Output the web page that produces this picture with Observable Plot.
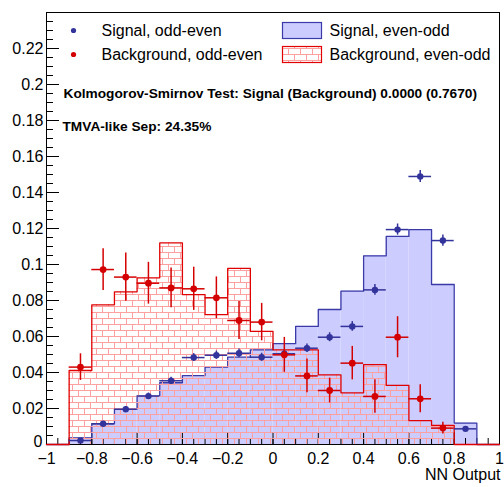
<!DOCTYPE html>
<html>
<head>
<meta charset="utf-8">
<script src="https://cdn.jsdelivr.net/npm/d3@7"></script>
<script src="https://cdn.jsdelivr.net/npm/@observablehq/plot@0.6"></script>
<style>
  html, body { margin: 0; padding: 0; background: #fff; }
  svg { display: block; }
</style>
</head>
<body>
<div id="chart"></div>
<script>
// ---- data ----
const binEdges = [-1, -0.9, -0.8, -0.7, -0.6, -0.5, -0.4, -0.3, -0.2, -0.1, 0, 0.1, 0.2, 0.3, 0.4, 0.5, 0.6, 0.7, 0.8, 0.9, 1];
// Signal, even-odd (histogram, 20 bins)
const sigEvenOdd = [0, 0.0037, 0.0115, 0.0196, 0.0269, 0.0343, 0.0383, 0.0430, 0.0485, 0.0526, 0.0560, 0.0656, 0.0750, 0.0852, 0.1048, 0.1156, 0.1194, 0.0889, 0.0119, 0];
// Background, even-odd (histogram, 20 bins)
const bkgEvenOdd = [0, 0.0411, 0.0776, 0.0848, 0.0926, 0.1120, 0.0833, 0.0722, 0.0978, 0.0628, 0.0526, 0.0526, 0.0387, 0.0287, 0.0444, 0.0328, 0.0133, 0.0106, 0, 0];
// Signal, odd-even (points)
const sigCenters = [-0.85, -0.75, -0.65, -0.55, -0.45, -0.35, -0.25, -0.15, -0.05, 0.05, 0.15, 0.25, 0.35, 0.45, 0.55, 0.65, 0.75, 0.85];
const sigOddEven = [0.0022, 0.0115, 0.0196, 0.0269, 0.0354, 0.0483, 0.0496, 0.0507, 0.0485, 0.0504, 0.0535, 0.0596, 0.0656, 0.0859, 0.1194, 0.1489, 0.1133, 0.0087];
const sigOddEvenErr = [0.0006, 0.0012, 0.0015, 0.0017, 0.0020, 0.0022, 0.0023, 0.0023, 0.0022, 0.0023, 0.0024, 0.0025, 0.0027, 0.0030, 0.0031, 0.0033, 0.0031, 0.0011];
// Background, odd-even (points)
const bkgCenters = [-0.85, -0.75, -0.65, -0.55, -0.45, -0.35, -0.25, -0.15, -0.05, 0.05, 0.15, 0.25, 0.35, 0.45, 0.55, 0.65, 0.75];
const bkgOddEven = [0.0430, 0.0972, 0.0930, 0.0896, 0.0870, 0.0865, 0.0815, 0.0689, 0.0680, 0.0498, 0.0381, 0.0300, 0.0452, 0.0267, 0.0596, 0.0254, 0.0091];
const bkgOddEvenErr = [0.0074, 0.0116, 0.0134, 0.0116, 0.0110, 0.0120, 0.0116, 0.0106, 0.0104, 0.0097, 0.0094, 0.0069, 0.0093, 0.0093, 0.0114, 0.0078, 0.0032];
const halfBin = 0.05;

const xTicks = [-1, -0.8, -0.6, -0.4, -0.2, 0, 0.2, 0.4, 0.6, 0.8, 1];
const yTicks = [0, 0.02, 0.04, 0.06, 0.08, 0.1, 0.12, 0.14, 0.16, 0.18, 0.2, 0.22];
const yZeroTick = [0];
const yUpperTicks = yTicks.slice(1);
const xMinor = d3.range(-1, 1.0001, 0.05);
const yMinor = d3.range(0, 0.2401, 0.005);

const legendPoints = ["Signal, odd-even", "Background, odd-even"];
const legendHists = ["Signal, even-odd", "Background, even-odd"];
const ksText = "Kolmogorov-Smirnov Test: Signal (Background) 0.0000 (0.7670)";
const sepText = "TMVA-like Sep: 24.35%";
const xLabel = "NN Output";

// ---- styles ----
const sigFill = "#ccccff";
const sigLine = "#3a3aa8";
const sigPoint = "#33339c";
const bkgLine = "#e00000";
const bkgPoint = "#d40000";
const brickColor = "#ffa0a0";

// ---- derived tables ----
const sigHist = sigEvenOdd.map((y, i) => ({x1: binEdges[i], x2: binEdges[i + 1], y}));
const bkgHist = bkgEvenOdd.map((y, i) => ({x1: binEdges[i], x2: binEdges[i + 1], y}));
const stepOf = (vals) => [...vals.map((y, i) => ({x: binEdges[i], y})), {x: binEdges[binEdges.length - 1], y: vals[vals.length - 1]}];
const sigStep = stepOf(sigEvenOdd);
const bkgStep = stepOf(bkgEvenOdd);
const sigPts = sigCenters.map((x, i) => ({x, y: sigOddEven[i], e: sigOddEvenErr[i]}));
const bkgPts = bkgCenters.map((x, i) => ({x, y: bkgOddEven[i], e: bkgOddEvenErr[i]}));

const W = 504, H = 487, ML = 46, MR = 5, MT = 12, MB = 43;
const FW = W - ML - MR, FH = H - MT - MB;

function defsMark() {
  const g = d3.create("svg:g");
  const p = g.append("defs").append("pattern")
    .attr("id", "brick").attr("patternUnits", "userSpaceOnUse")
    .attr("width", 12).attr("height", 12);
  const line = (x1, y1, x2, y2) => {
    p.append("line").attr("x1", x1).attr("y1", y1).attr("x2", x2).attr("y2", y2)
      .attr("stroke", brickColor).attr("stroke-width", 1).attr("fill", "none");
  };
  line(0, 0.5, 12, 0.5);
  line(0, 6.5, 12, 6.5);
  line(0.5, 0.5, 0.5, 6.5);
  line(6.5, 6.5, 6.5, 12.5);
  return g.node();
}

function legendBoxes() {
  const g = d3.create("svg:g");
  g.append("rect").attr("x", 282.5).attr("y", 22.5).attr("width", 39).attr("height", 16)
    .attr("fill", sigFill).attr("stroke", sigLine).attr("stroke-width", 1.2);
  g.append("rect").attr("x", 282.5).attr("y", 46.5).attr("width", 39).attr("height", 16)
    .attr("fill", "url(#brick)").attr("stroke", bkgLine).attr("stroke-width", 1.2);
  return g.node();
}

const fmt = d3.format("~g");

const chart = Plot.plot({
  width: W, height: H,
  marginLeft: ML, marginRight: MR, marginTop: MT, marginBottom: MB,
  x: {domain: [-1, 1]},
  y: {domain: [0, 0.24]},
  style: {fontFamily: "'Liberation Sans', Arial, Helvetica, sans-serif", fontSize: "16px", color: "black", background: "white", overflow: "visible"},
  marks: [
    defsMark,
    // signal even-odd fill
    Plot.rectY(sigHist, {x1: "x1", x2: "x2", y: "y", fill: sigFill}),
    // ticks
    Plot.tickY(yTicks, {y: d => d, stroke: "black", insetRight: FW - 13}),
    Plot.tickY(yMinor, {y: d => d, stroke: "black", insetRight: FW - 7}),
    Plot.tickX(xTicks, {x: d => d, stroke: "black", insetTop: FH - 12}),
    Plot.tickX(xMinor, {x: d => d, stroke: "black", insetTop: FH - 6}),
    Plot.lineY(sigStep, {x: "x", y: "y", curve: "step-after", stroke: sigLine, strokeWidth: 1.3}),
    // background even-odd brick fill
    Plot.rectY(bkgHist, {x1: "x1", x2: "x2", y: "y", fill: "url(#brick)"}),
    Plot.frame({stroke: "black", strokeWidth: 1}),
    Plot.lineY(bkgStep, {x: "x", y: "y", curve: "step-after", stroke: bkgLine, strokeWidth: 1.3}),
    // axes
    Plot.axisY(yUpperTicks, {anchor: "left", tickSize: 0, tickPadding: 3, tickFormat: fmt, label: null, fontSize: 16}),
    Plot.axisY(yZeroTick, {anchor: "left", tickSize: 0, tickPadding: 4, tickFormat: fmt, label: null, fontSize: 16, dy: -3}),
    Plot.axisX(xTicks, {anchor: "bottom", tickSize: 0, tickPadding: 8, tickFormat: fmt, label: null, fontSize: 16}),
    Plot.text([xLabel], {frameAnchor: "bottom-right", text: d => d, textAnchor: "end", lineAnchor: "middle", dx: 1, dy: 30, fontSize: 16}),
    // signal odd-even points
    Plot.ruleX(sigPts, {x: "x", y1: d => d.y - d.e, y2: d => d.y + d.e, stroke: sigPoint, strokeWidth: 1.5}),
    Plot.ruleY(sigPts, {y: "y", x1: d => d.x - halfBin, x2: d => d.x + halfBin, stroke: sigPoint, strokeWidth: 1.5}),
    Plot.dot(sigPts, {x: "x", y: "y", r: 3.2, fill: sigPoint, stroke: null}),
    // background odd-even points
    Plot.ruleX(bkgPts, {x: "x", y1: d => d.y - d.e, y2: d => d.y + d.e, stroke: bkgPoint, strokeWidth: 1.5}),
    Plot.ruleY(bkgPts, {y: "y", x1: d => d.x - halfBin, x2: d => d.x + halfBin, stroke: bkgPoint, strokeWidth: 1.5}),
    Plot.dot(bkgPts, {x: "x", y: "y", r: 3.4, fill: bkgPoint, stroke: null}),
    // legend
    Plot.dot([legendPoints[0]], {frameAnchor: "top-left", dx: 27, dy: 18, r: 2.6, fill: sigPoint}),
    Plot.dot([legendPoints[1]], {frameAnchor: "top-left", dx: 27, dy: 42, r: 2.6, fill: bkgPoint}),
    Plot.text([legendPoints[0]], {frameAnchor: "top-left", text: d => d, textAnchor: "start", lineAnchor: "middle", dx: 55, dy: 18, fontSize: 16}),
    Plot.text([legendPoints[1]], {frameAnchor: "top-left", text: d => d, textAnchor: "start", lineAnchor: "middle", dx: 55, dy: 42, fontSize: 16}),
    legendBoxes,
    Plot.text([legendHists[0]], {frameAnchor: "top-left", text: d => d, textAnchor: "start", lineAnchor: "middle", dx: 283, dy: 18, fontSize: 16}),
    Plot.text([legendHists[1]], {frameAnchor: "top-left", text: d => d, textAnchor: "start", lineAnchor: "middle", dx: 283, dy: 42, fontSize: 16}),
    // stats text
    Plot.text([ksText], {frameAnchor: "top-left", text: d => d, textAnchor: "start", lineAnchor: "middle", dx: 17, dy: 81, fontSize: 13.7, fontWeight: "bold"}),
    Plot.text([sepText], {frameAnchor: "top-left", text: d => d, textAnchor: "start", lineAnchor: "middle", dx: 16, dy: 114, fontSize: 13.7, fontWeight: "bold"})
  ]
});
document.getElementById("chart").appendChild(chart);
</script>
</body>
</html>
